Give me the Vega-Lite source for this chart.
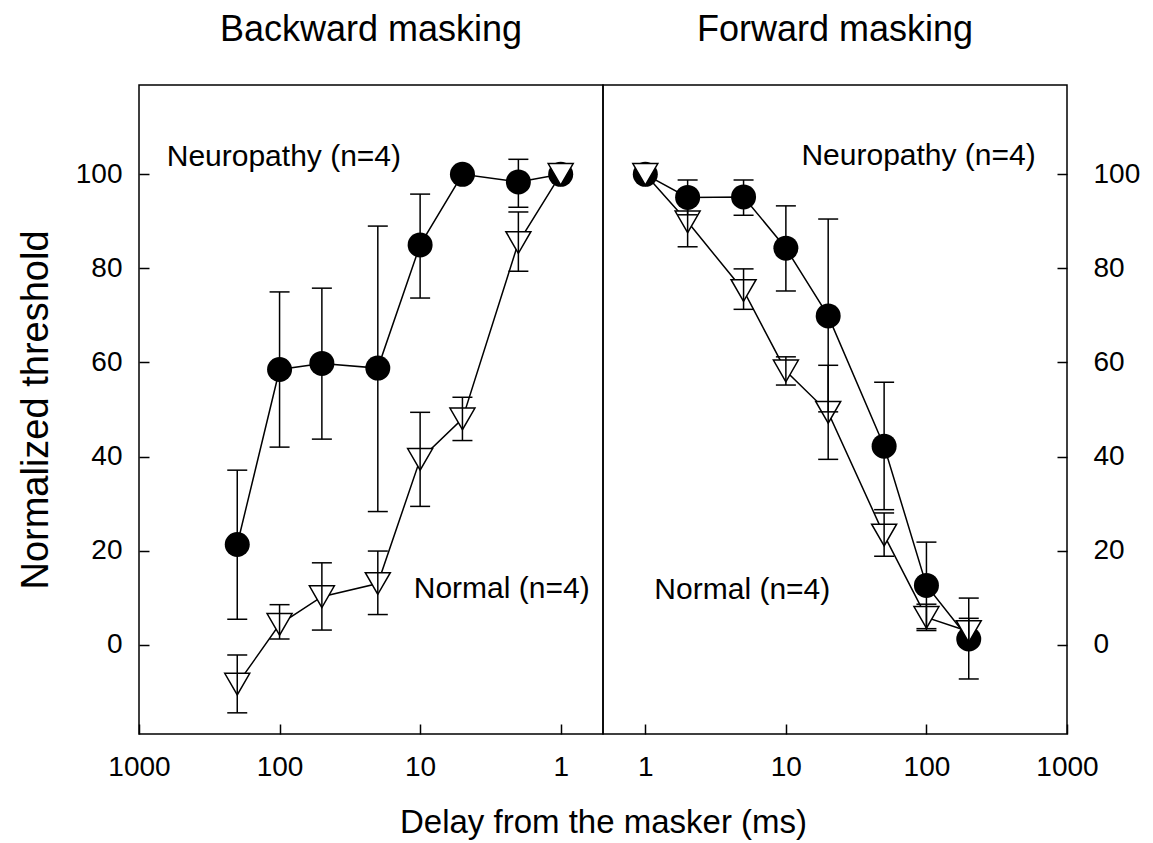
{
  "$schema": "https://vega.github.io/schema/vega-lite/v6.json",
  "background": "white",
  "padding": {"left": 16, "top": 11, "right": 5, "bottom": 5},
  "bounds": "flush",
  "spacing": 0,
  "datasets": {
    "backward": [
      {"group": "Neuropathy", "delay": 200, "y": 21.3, "lo": 5.4, "hi": 37.1},
      {"group": "Neuropathy", "delay": 100, "y": 58.5, "lo": 42, "hi": 75},
      {"group": "Neuropathy", "delay": 50, "y": 59.8, "lo": 43.7, "hi": 75.8},
      {"group": "Neuropathy", "delay": 20, "y": 58.8, "lo": 28.3, "hi": 89},
      {"group": "Neuropathy", "delay": 10, "y": 85, "lo": 73.7, "hi": 95.8},
      {"group": "Neuropathy", "delay": 5, "y": 100, "lo": null, "hi": null},
      {"group": "Neuropathy", "delay": 2, "y": 98.4, "lo": 93, "hi": 103.2},
      {"group": "Neuropathy", "delay": 1, "y": 100, "lo": null, "hi": null},
      {"group": "Normal", "delay": 200, "y": -8.4, "lo": -14.5, "hi": -2.2},
      {"group": "Normal", "delay": 100, "y": 4.3, "lo": 1.2, "hi": 8.5},
      {"group": "Normal", "delay": 50, "y": 10.2, "lo": 3.1, "hi": 17.4},
      {"group": "Normal", "delay": 20, "y": 13, "lo": 6.4, "hi": 19.9},
      {"group": "Normal", "delay": 10, "y": 39.4, "lo": 29.4, "hi": 49.4},
      {"group": "Normal", "delay": 5, "y": 48, "lo": 43.4, "hi": 52.6},
      {"group": "Normal", "delay": 2, "y": 85.5, "lo": 79.4, "hi": 92},
      {"group": "Normal", "delay": 1, "y": 100, "lo": null, "hi": null}
    ],
    "forward": [
      {"group": "Neuropathy", "delay": 1, "y": 100, "lo": null, "hi": null},
      {"group": "Neuropathy", "delay": 2, "y": 95.1, "lo": 91.4, "hi": 98.8},
      {"group": "Neuropathy", "delay": 5, "y": 95.2, "lo": 91.3, "hi": 98.8},
      {"group": "Neuropathy", "delay": 10, "y": 84.3, "lo": 75.2, "hi": 93.3},
      {"group": "Neuropathy", "delay": 20, "y": 69.9, "lo": 49.5, "hi": 90.5},
      {"group": "Neuropathy", "delay": 50, "y": 42.2, "lo": 28.7, "hi": 55.8},
      {"group": "Neuropathy", "delay": 100, "y": 12.6, "lo": 3.4, "hi": 21.8},
      {"group": "Neuropathy", "delay": 200, "y": 1.2, "lo": -7.3, "hi": 9.9},
      {"group": "Normal", "delay": 1, "y": 100, "lo": null, "hi": null},
      {"group": "Normal", "delay": 2, "y": 89.9, "lo": 84.6, "hi": 95.2},
      {"group": "Normal", "delay": 5, "y": 75.3, "lo": 71.3, "hi": 79.9},
      {"group": "Normal", "delay": 10, "y": 58.2, "lo": 55.2, "hi": 61.2},
      {"group": "Normal", "delay": 20, "y": 49.4, "lo": 39.4, "hi": 59.4},
      {"group": "Normal", "delay": 50, "y": 23.3, "lo": 18.8, "hi": 28},
      {"group": "Normal", "delay": 100, "y": 5.8, "lo": 3, "hi": 8.6},
      {"group": "Normal", "delay": 200, "y": 2.8, "lo": 0, "hi": 5.6}
    ],
    "labels_b": [
      {"label": "Neuropathy (n=4)", "delay": 635, "y": 101.7},
      {"label": "Normal (n=4)", "delay": 11.1, "y": 9.85}
    ],
    "labels_f": [
      {"label": "Neuropathy (n=4)", "delay": 12.9, "y": 101.9},
      {"label": "Normal (n=4)", "delay": 1.16, "y": 9.6}
    ]
  },
  "hconcat": [
    {
      "width": 464,
      "height": 649,
      "title": {"text": "Backward masking"},
      "data": {"name": "backward"},
      "encoding": {
        "x": {
          "field": "delay", "type": "quantitative",
          "scale": {"type": "log", "domain": [0.5, 1000], "reverse": true, "nice": false},
          "axis": {"values": [1000, 100, 10, 1], "format": "d", "title": "Delay from the masker (ms)",
                   "titleX": 464, "titleY": 98, "titleAlign": "center", "titleBaseline": "alphabetic",
                   "labelFlush": false, "labelPadding": 29}
        },
        "y": {
          "field": "y", "type": "quantitative",
          "scale": {"domain": [-19, 119], "nice": false, "zero": false},
          "axis": {"values": [0, 20, 40, 60, 80, 100], "title": "Normalized threshold",
                   "titleX": -103, "titleY": 324.5, "titleAngle": -90, "titleAlign": "center",
                   "titleBaseline": "middle", "titleFontSize": 38, "labelPadding": 27}
        }
      },
      "layer": [
        {"mark": {"type": "line", "color": "black", "strokeWidth": 1.5}, "encoding": {"detail": {"field": "group"}}},
        {"transform": [{"filter": "datum.group === 'Neuropathy'"}],
         "mark": {"type": "point", "shape": "circle", "filled": true, "color": "black", "opacity": 1, "size": 625}},
        {"transform": [{"filter": "datum.group === 'Normal'"}],
         "mark": {"type": "point", "shape": "triangle-down", "filled": true, "fill": "white", "stroke": "black", "strokeWidth": 1.5, "opacity": 1, "size": 625}},
        {"mark": {"type": "rule", "color": "black", "strokeWidth": 1.5}, "encoding": {"y": {"field": "lo", "type": "quantitative"}, "y2": {"field": "hi"}}},
        {"mark": {"type": "tick", "orient": "horizontal", "color": "black", "size": 20, "thickness": 1.5, "opacity": 1}, "encoding": {"y": {"field": "lo", "type": "quantitative"}}},
        {"mark": {"type": "tick", "orient": "horizontal", "color": "black", "size": 20, "thickness": 1.5, "opacity": 1}, "encoding": {"y": {"field": "hi", "type": "quantitative"}}},
        {"data": {"name": "labels_b"},
         "mark": {"type": "text", "align": "left", "baseline": "alphabetic", "fontSize": 30, "font": "Liberation Sans", "color": "black"},
         "encoding": {"text": {"field": "label"}}}
      ]
    },
    {
      "width": 464,
      "height": 649,
      "title": {"text": "Forward masking"},
      "data": {"name": "forward"},
      "encoding": {
        "x": {
          "field": "delay", "type": "quantitative",
          "scale": {"type": "log", "domain": [0.5, 1000], "nice": false},
          "axis": {"values": [1, 10, 100, 1000], "format": "d", "title": null,
                   "labelFlush": false, "labelPadding": 29}
        },
        "y": {
          "field": "y", "type": "quantitative",
          "scale": {"domain": [-19, 119], "nice": false, "zero": false},
          "axis": {"orient": "right", "values": [0, 20, 40, 60, 80, 100], "title": null, "labelPadding": 36}
        }
      },
      "layer": [
        {"mark": {"type": "line", "color": "black", "strokeWidth": 1.5}, "encoding": {"detail": {"field": "group"}}},
        {"transform": [{"filter": "datum.group === 'Neuropathy'"}],
         "mark": {"type": "point", "shape": "circle", "filled": true, "color": "black", "opacity": 1, "size": 625}},
        {"transform": [{"filter": "datum.group === 'Normal'"}],
         "mark": {"type": "point", "shape": "triangle-down", "filled": true, "fill": "white", "stroke": "black", "strokeWidth": 1.5, "opacity": 1, "size": 625}},
        {"mark": {"type": "rule", "color": "black", "strokeWidth": 1.5}, "encoding": {"y": {"field": "lo", "type": "quantitative"}, "y2": {"field": "hi"}}},
        {"mark": {"type": "tick", "orient": "horizontal", "color": "black", "size": 20, "thickness": 1.5, "opacity": 1}, "encoding": {"y": {"field": "lo", "type": "quantitative"}}},
        {"mark": {"type": "tick", "orient": "horizontal", "color": "black", "size": 20, "thickness": 1.5, "opacity": 1}, "encoding": {"y": {"field": "hi", "type": "quantitative"}}},
        {"data": {"name": "labels_f"},
         "mark": {"type": "text", "align": "left", "baseline": "alphabetic", "fontSize": 30, "font": "Liberation Sans", "color": "black"},
         "encoding": {"text": {"field": "label"}}}
      ]
    }
  ],
  "config": {
    "font": "Liberation Sans",
    "view": {"stroke": "black", "strokeWidth": 1.5},
    "axis": {
      "grid": false, "domain": false,
      "tickColor": "black", "tickWidth": 1.5, "tickSize": -10,
      "labelColor": "black", "labelFont": "Liberation Sans", "labelFontSize": 28,
      "titleFont": "Liberation Sans", "titleFontSize": 33, "titleFontWeight": "normal", "titleColor": "black"
    },
    "title": {"font": "Liberation Sans", "fontSize": 36, "fontWeight": "normal", "color": "black",
              "offset": 36, "anchor": "middle"}
  }
}
